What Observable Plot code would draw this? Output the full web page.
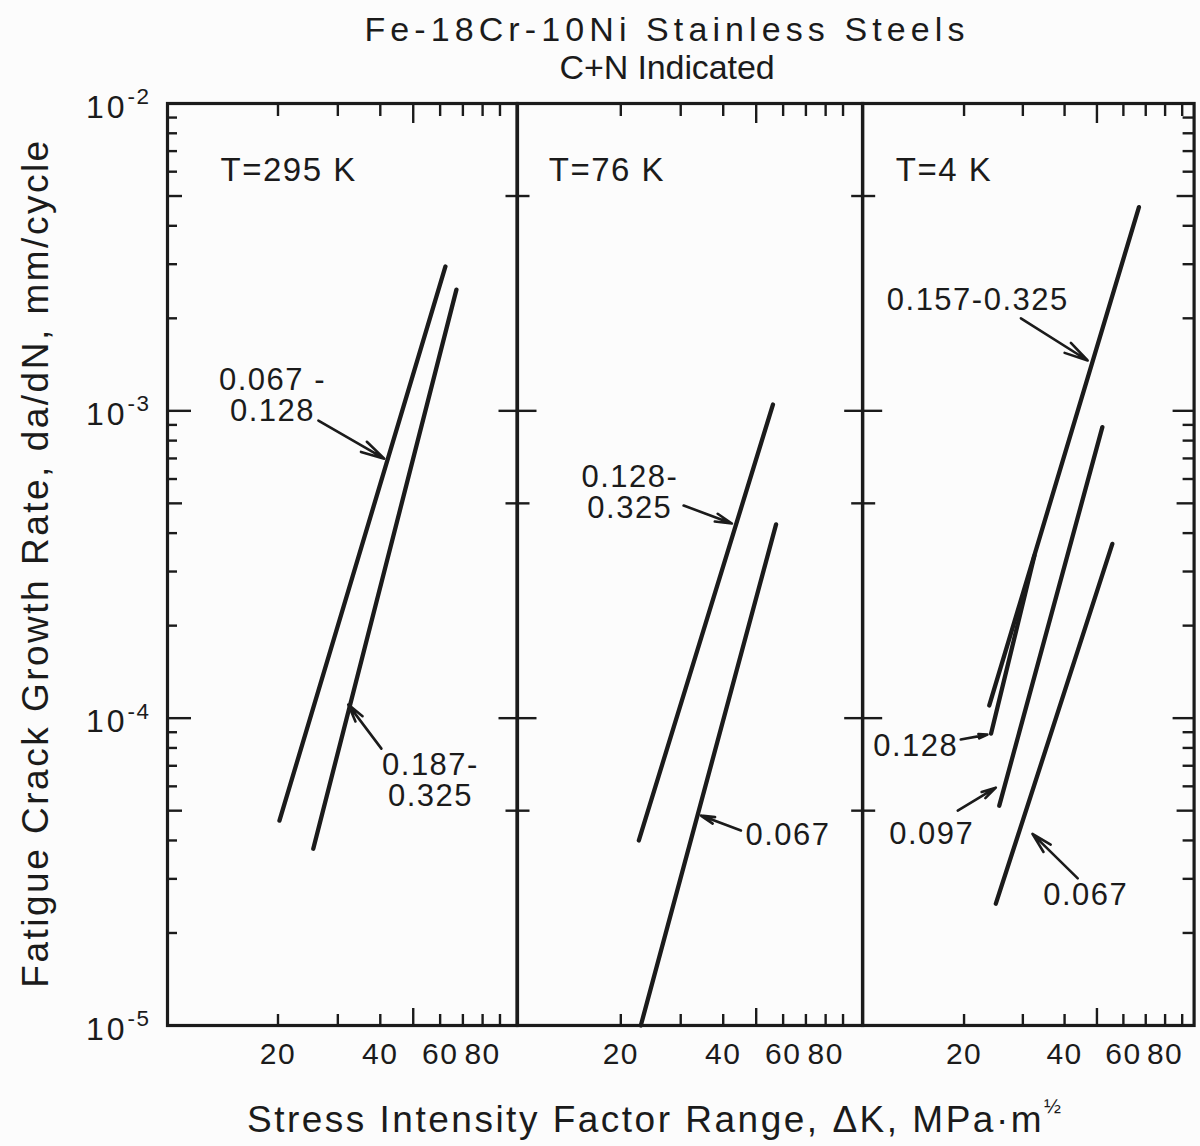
<!DOCTYPE html>
<html>
<head>
<meta charset="utf-8">
<script src="https://cdn.jsdelivr.net/npm/d3@7"></script>
<script src="https://cdn.jsdelivr.net/npm/@observablehq/plot@0.6"></script>
<style>
  html, body { margin: 0; padding: 0; background: #fcfcfc; overflow: hidden; }
  #chart { position: relative; width: 1200px; height: 1146px; color: #1b1b1b;
           font-family: "Liberation Sans", Arial, Helvetica, sans-serif; }
  #chart svg { position: absolute; }
  .title { position: absolute; left: 267px; width: 800px; text-align: center;
           font-size: 34px; white-space: nowrap; }
  .ylabel { position: absolute; left: 36px; top: 563px; white-space: nowrap;
            font-size: 37px; letter-spacing: 2.5px;
            transform: translate(-50%, -50%) rotate(-90deg); }
  .xlabel { position: absolute; left: 654px; top: 1118px; white-space: nowrap;
            font-size: 37px; letter-spacing: 2.5px; transform: translate(-50%, -50%); }
  .xlabel sup { font-size: 0.55em; vertical-align: 0.95em; letter-spacing: 0; }
</style>
</head>
<body>
<div id="chart">
  <div class="title" style="top: 10px; letter-spacing: 5.1px;">Fe-18Cr-10Ni Stainless Steels</div>
  <div class="title" style="top: 48px; letter-spacing: -0.1px;">C+N Indicated</div>
  <div class="ylabel">Fatigue Crack Growth Rate, da/dN, mm/cycle</div>
  <div class="xlabel">Stress Intensity Factor Range, ΔK, MPa·m<sup>½</sup></div>
</div>
<script>
// Fatigue crack growth bands, Fe-18Cr-10Ni stainless steels, one panel per test temperature.
// ΔK in MPa·m^½, da/dN in mm/cycle; each band is a straight Paris-law segment on log-log axes.
const panelTitles = ["T=295 K", "T=76 K", "T=4 K"];
const titleK = [13.55, 12.28, 12.49];
const titleRate = 6.05e-3;

// C+N content (wt.%) of each band
const bandCN = [
  ["0.067-0.128", "0.187-0.325"],
  ["0.128-0.325", "0.067"],
  ["0.157-0.325", "0.128", "0.097", "0.067"]
];
// band end points
const startK    = [[20.2, 25.4], [22.6, 22.9], [23.8, 24.1, 25.5, 24.9]];
const startRate = [[4.64e-5, 3.76e-5], [4.0e-5, 1.0e-5], [1.10e-4, 8.91e-5, 5.19e-5, 2.49e-5]];
const endK      = [[62.2, 67.0], [56.0, 57.2], [66.8, 32.5, 51.9, 55.6]];
const endRate   = [[2.95e-3, 2.48e-3], [1.048e-3, 4.27e-4], [4.60e-3, 3.38e-4, 8.85e-4, 3.69e-4]];

// band labels and their leader arrows
const noteText = [
  ["0.067 -\n0.128", "0.187-\n0.325"],
  ["0.128-\n0.325", "0.067"],
  ["0.157-0.325", "0.128", "0.097", "0.067"]
];
const noteK        = [[19.27, 56.2], [21.26, 62.0], [21.98, 14.33, 16.0, 46.3]];
const noteRate     = [[1.121e-3, 6.26e-5], [5.42e-4, 4.15e-5], [2.286e-3, 8.14e-5, 4.21e-5, 2.65e-5]];
const arrowFromK   = [[26.3, 40.3], [30.6, 45.1], [29.6, 19.55, 19.15, 43.8]];
const arrowFromRate= [[9.30e-4, 7.96e-5], [4.92e-4, 4.31e-5], [2.00e-3, 8.52e-5, 5.0e-5, 3.01e-5]];
const arrowToK     = [[41.1, 32.2], [42.4, 34.4], [46.9, 23.5, 24.9, 32.05]];
const arrowToRate  = [[6.99e-4, 1.107e-4], [4.30e-4, 4.82e-5], [1.458e-3, 8.84e-5, 5.94e-5, 4.20e-5]];

// axis ticks
const kTicks = [20, 30, 40, 60, 70, 80, 90];
const kMidTick = [50];
const kTickLabels = [20, 40, 60, 80];
const rateDecades = [1e-2, 1e-3, 1e-4, 1e-5];
const rateFives = [5e-3, 5e-4, 5e-5];
const rateMinor = [];
for (const dec of [1e-5, 1e-4, 1e-3]) for (const m of [2, 3, 4, 6, 7, 8, 9]) rateMinor.push(m * dec);
const dividerDecades = [1e-3, 1e-4];

const ink = "#1b1b1b";
const frameTop = 103, frameHeight = 922;
const mt = 25, mb = 60, mr = 30;
const layout = [
  {left: 167,   right: 516.5,  domain: [9.46, 101],   ml: 167},
  {left: 516.5, right: 861.7,  domain: [9.94, 102.8], ml: 30},
  {left: 861.7, right: 1193.3, domain: [9.93, 97.7],  ml: 30}
];

function tickOpts(extra) {
  return Object.assign({stroke: ink, strokeWidth: 2.4, fill: "none", label: null}, extra);
}

const chart = document.getElementById("chart");

layout.forEach((L, p) => {
  const pw = L.right - L.left;
  const rows = [];
  bandCN[p].forEach((cn, i) => {
    rows.push({cn, dK: startK[p][i], rate: startRate[p][i]});
    rows.push({cn, dK: endK[p][i], rate: endRate[p][i]});
  });
  const notes = noteText[p].map((text, i) => ({
    text, k: noteK[p][i], rate: noteRate[p][i],
    fromK: arrowFromK[p][i], fromRate: arrowFromRate[p][i],
    toK: arrowToK[p][i], toRate: arrowToRate[p][i]
  }));

  const marks = [
    Plot.line(rows, {x: "dK", y: "rate", z: "cn", stroke: ink, strokeWidth: 4.3, strokeLinecap: "round"}),
    Plot.arrow(notes, {x1: "fromK", y1: "fromRate", x2: "toK", y2: "toRate",
                       stroke: ink, strokeWidth: 2.6, headLength: 14, headAngle: 28}),
    Plot.text(notes, {x: "k", y: "rate", text: "text", fontSize: 31, lineHeight: 1.0,
                      fill: ink, textAnchor: "middle", style: "letter-spacing: 0.6px"}),
    Plot.text([{t: panelTitles[p], k: titleK[p], rate: titleRate}],
              {x: "k", y: "rate", text: "t", fontSize: 33, fill: ink, textAnchor: "start"}),
    Plot.frame({stroke: ink, strokeWidth: 3.2}),
    // inward ticks on the top and bottom edges
    Plot.axisX(kTicks, tickOpts({anchor: "bottom", tickSize: -11})),
    Plot.axisX(kMidTick, tickOpts({anchor: "bottom", tickSize: -17})),
    Plot.axisX(kTicks, tickOpts({anchor: "top", tickSize: -12})),
    Plot.axisX(kMidTick, tickOpts({anchor: "top", tickSize: -19})),
    Plot.axisX({ticks: kTickLabels, anchor: "bottom", tickSize: 0, tickPadding: 17, fontSize: 30,
                fill: ink, label: null, tickFormat: d => String(d)})
  ];

  if (p === 0) {
    marks.push(
      Plot.axisY(rateMinor, tickOpts({anchor: "left", tickSize: -10})),
      Plot.axisY(rateFives, tickOpts({anchor: "left", tickSize: -15})),
      Plot.axisY(rateDecades, tickOpts({anchor: "left", tickSize: -24})),
      Plot.axisY({ticks: rateDecades, anchor: "left", tickSize: 0, tickPadding: 17, fontSize: 32, fill: ink,
                  dy: 4, label: null, tickFormat: d => "10|" + Math.round(-Math.log10(d))})
    );
  }
  if (p < 2) {
    // cross ticks where neighbouring panels meet
    marks.push(
      Plot.axisY(rateFives, tickOpts({anchor: "right", tickSize: 12})),
      Plot.axisY(rateFives, tickOpts({anchor: "right", tickSize: -12})),
      Plot.axisY(dividerDecades, tickOpts({anchor: "right", tickSize: 19})),
      Plot.axisY(dividerDecades, tickOpts({anchor: "right", tickSize: -19}))
    );
  } else {
    marks.push(
      Plot.axisY(rateMinor, tickOpts({anchor: "right", tickSize: -12})),
      Plot.axisY(rateFives, tickOpts({anchor: "right", tickSize: -18})),
      Plot.axisY(rateDecades, tickOpts({anchor: "right", tickSize: -22}))
    );
  }

  const svg = Plot.plot({
    width: L.ml + pw + mr,
    height: mt + frameHeight + mb,
    marginLeft: L.ml, marginRight: mr, marginTop: mt, marginBottom: mb,
    x: {type: "log", domain: L.domain, label: null},
    y: {type: "log", domain: [1e-5, 1e-2], label: null},
    style: {background: "transparent", overflow: "visible", color: ink,
            fontFamily: '"Liberation Sans", Arial, Helvetica, sans-serif', letterSpacing: "1.5px"},
    marks
  });
  svg.style.left = (L.left - L.ml) + "px";
  svg.style.top = (frameTop - mt) + "px";
  svg.style.maxWidth = "none";

  // decade labels: 10 with a raised exponent
  d3.select(svg).selectAll('g[aria-label="y-axis tick label"] text').each(function () {
    const s = this.textContent;
    if (s.indexOf("|") < 0) return;
    const exp = s.split("|")[1];
    const t = d3.select(this);
    t.text(null);
    t.append("tspan").style("letter-spacing", "3px").text("10");
    t.append("tspan").attr("dy", "-0.62em").attr("font-size", "0.7em").text("-" + exp);
  });
  chart.appendChild(svg);
});
</script>
</body>
</html>
